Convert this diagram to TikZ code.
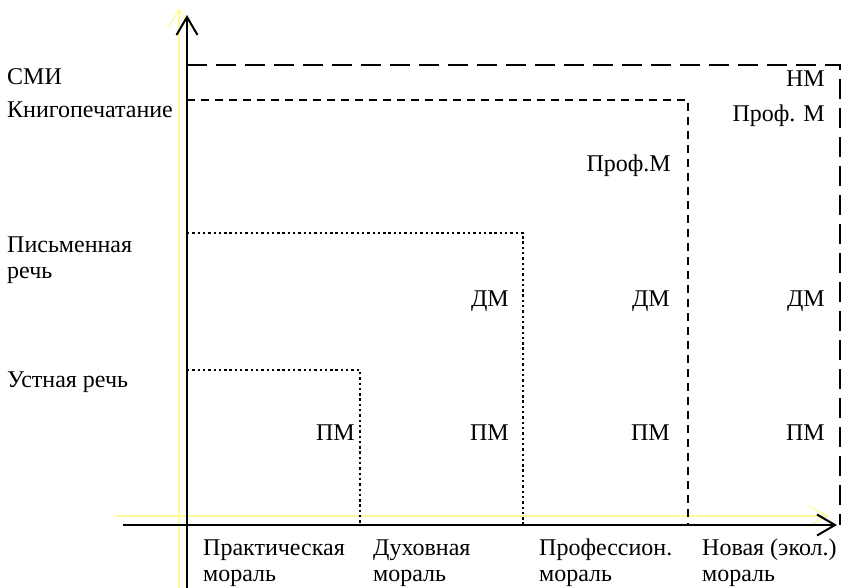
\documentclass[tikz,border=0pt]{standalone}
\usepackage{fontspec}
\setmainfont{Liberation Serif}
\usetikzlibrary{arrows.meta,positioning}
\tikzset{axis/.style={
    line width=2pt,
    -{Straight Barb[length=18pt,width=21pt,line width=2pt]}
  },
  ghost axis/.style={
    draw=yellow!40,
    line width=1.2pt,
    -{Straight Barb[length=18pt,width=21pt,line width=1.2pt]}
  },
  era long/.style={
    line width=2.6pt,
    dash pattern=on 20pt off 9pt
  },
  era short/.style={
    line width=2.6pt,
    dash pattern=on 8pt off 6pt
  },
  era dot/.style={
    line width=2.2pt,
    dash pattern=on 2.4pt off 2.9pt
  },
  lbl/.style={
    inner sep=0pt,
    font=\fontsize{24}{26}\selectfont
  },
  lbl left/.style={lbl, anchor=base west, align=left},
  lbl right/.style={lbl, anchor=base east}
}

\begin{document}
\begin{tikzpicture}[x=1pt,y=-1pt]
  \useasboundingbox (0,0) rectangle (843,588);

  % -- Faint shifted copy of the axes.
  \coordinate (gy0) at (179,588);
  \coordinate (gy1) at (179,8);
  \coordinate (gx0) at (115,516);
  \coordinate (gx1) at (828,516);
  \draw[ghost axis] (gy0) -- (gy1);
  \draw[ghost axis] (gx0) -- (gx1);

  % -- Draw the axes.
  \coordinate (y0) at (187,588);
  \coordinate (y1) at (187,15);
  \coordinate (x0) at (123,525);
  \coordinate (x1) at (837,525);
  \draw[axis] (y0) -- (y1);
  \draw[axis] (x0) -- (x1);

  % -- The nested areas of the four moralities.
  \draw[era dot] (187,370) -- (360,370) -- (360,525);
  \draw[era dot] (187,233) -- (523,233) -- (523,525);
  \draw[era short] (187,100) -- (688,100) -- (688,525);
  \draw[era long] (187,65) -- (840,65) -- (840,525);

  % -- Labels of the vertical axis (base = last line).
  \node[lbl left] (smi) at (7,85) {СМИ};
  \node[lbl left] (kniga) at (7,118) {Книгопечатание};
  \node[lbl left] (pismo) at (7,278) {Письменная\\речь};
  \node[lbl left] (ustno) at (7,387) {Устная речь};

  % -- Labels of the horizontal axis.
  \node[lbl left] (prakt) at (203,581) {Практическая\\мораль};
  \node[lbl left] (duh) at (373,581) {Духовная\\мораль};
  \node[lbl left] (prof) at (539,581) {Профессион.\\мораль};
  \node[lbl left] (nova) at (702,581) {Новая (экол.)\\мораль};

  % -- Labels inside the areas.
  \node[lbl right] (pm1) at (355,440) {ПМ};
  \node[lbl right] (pm2) at (509,440) {ПМ};
  \node[lbl right] (pm3) at (670,440) {ПМ};
  \node[lbl right] (pm4) at (825,440) {ПМ};
  \node[lbl right] (dm2) at (509,306) {ДМ};
  \node[lbl right] (dm3) at (670,306) {ДМ};
  \node[lbl right] (dm4) at (825,306) {ДМ};
  \node[lbl right] (prm3) at (671,172) {Проф.М};
  \node[lbl right] (prm4) at (825,122) {Проф. М};
  \node[lbl right] (nm4) at (825,87) {НМ};
\end{tikzpicture}
\end{document}
